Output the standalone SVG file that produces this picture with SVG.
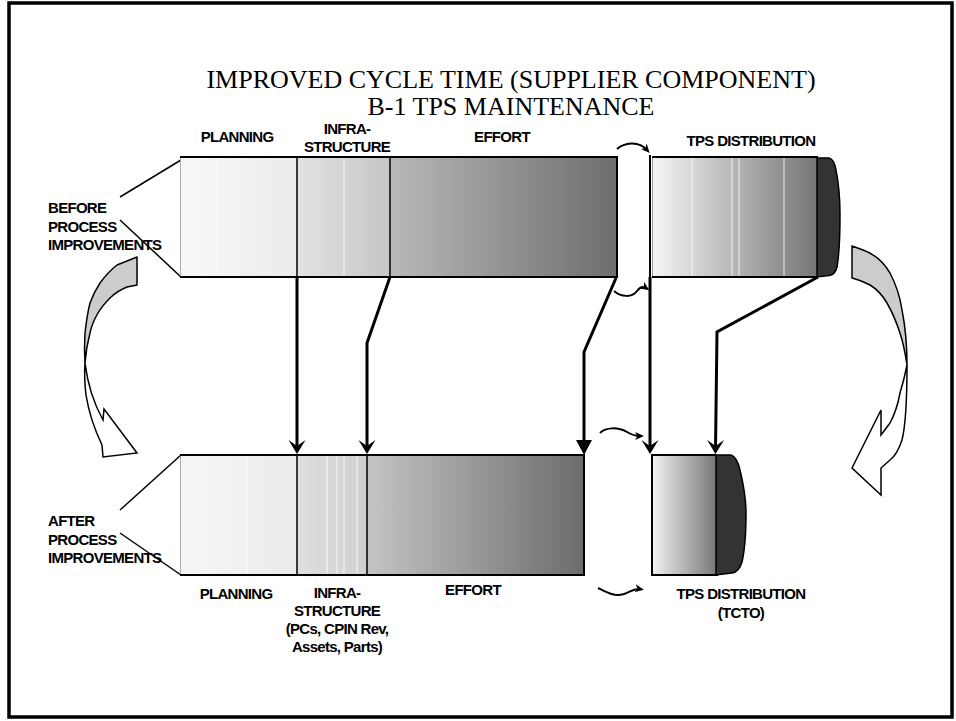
<svg xmlns="http://www.w3.org/2000/svg" width="956" height="721" viewBox="0 0 956 721">
<style>
.lbl{font-family:"Liberation Sans",Arial,sans-serif;font-weight:bold;font-size:15px;letter-spacing:-0.7px;fill:#000}
.mid{text-anchor:middle}
.ttl{font-family:"Liberation Serif","Times New Roman",serif;font-size:26px;fill:#000;text-anchor:middle}
.edge{stroke:#000;stroke-width:2;fill:none}
.div{stroke:#000;stroke-width:1.5}
.sheen{stroke:#fff;stroke-width:1;opacity:0.85}
.conn{stroke:#000;stroke-width:3;fill:none;stroke-linejoin:miter}
.curl{stroke:#000;stroke-width:2;fill:none}
.fun{stroke:#000;stroke-width:1.5}
.back{fill:#cccccc;stroke:#000;stroke-width:1.5;stroke-linejoin:round}
.front{fill:#ffffff;stroke:#000;stroke-width:1.5;stroke-linejoin:miter}
.cap{fill:#333333;stroke:#000;stroke-width:1.5}
</style>
<defs>
<linearGradient id="gTop" gradientUnits="userSpaceOnUse" x1="180" y1="0" x2="617" y2="0">
<stop offset="0" stop-color="#f8f8f8"/>
<stop offset="0.268" stop-color="#ebebeb"/>
<stop offset="0.269" stop-color="#e2e2e2"/>
<stop offset="0.48" stop-color="#c6c6c6"/>
<stop offset="0.481" stop-color="#b8b8b8"/>
<stop offset="1" stop-color="#6e6e6e"/>
</linearGradient>
<linearGradient id="gBot" gradientUnits="userSpaceOnUse" x1="180" y1="0" x2="584" y2="0">
<stop offset="0" stop-color="#f6f6f6"/>
<stop offset="0.29" stop-color="#ebebeb"/>
<stop offset="0.291" stop-color="#dedede"/>
<stop offset="0.463" stop-color="#d0d0d0"/>
<stop offset="0.464" stop-color="#c4c4c4"/>
<stop offset="1" stop-color="#6c6c6c"/>
</linearGradient>
<linearGradient id="gTpsTop" gradientUnits="userSpaceOnUse" x1="652" y1="0" x2="818" y2="0">
<stop offset="0" stop-color="#f6f6f6"/>
<stop offset="1" stop-color="#747474"/>
</linearGradient>
<linearGradient id="gTpsBot" gradientUnits="userSpaceOnUse" x1="652" y1="0" x2="716" y2="0">
<stop offset="0" stop-color="#f2f2f2"/>
<stop offset="1" stop-color="#787878"/>
</linearGradient>
<marker id="barb" markerUnits="userSpaceOnUse" markerWidth="16" markerHeight="18" refX="10" refY="9" orient="auto">
<path d="M14,9 L0,0.5 L6,9 L0,17.5 Z" fill="#000"/>
</marker>
<marker id="tri" markerUnits="userSpaceOnUse" markerWidth="16" markerHeight="16" refX="11" refY="8" orient="auto">
<path d="M15,8 L0,0 L0,16 Z" fill="#000"/>
</marker>
<marker id="sm" markerUnits="userSpaceOnUse" markerWidth="10" markerHeight="8" refX="5" refY="4" orient="auto">
<path d="M9,4 L0,0 L2.5,4 L0,8 Z" fill="#000"/>
</marker>
</defs>

<rect x="9" y="3" width="943" height="714" fill="#ffffff" stroke="#000" stroke-width="3.5"/>

<g id="title">
<text class="ttl" x="511" y="88">IMPROVED CYCLE TIME (SUPPLIER COMPONENT)</text>
<text class="ttl" x="511" y="115">B-1 TPS MAINTENANCE</text>
</g>

<g id="before-label">
<text class="lbl" x="48" y="213">BEFORE</text>
<text class="lbl" x="48" y="232">PROCESS</text>
<text class="lbl" x="48" y="250">IMPROVEMENTS</text>
<line class="fun" x1="181" y1="160" x2="120" y2="197"/>
<line class="fun" x1="120" y1="220" x2="181" y2="277"/>
</g>

<g id="after-label">
<text class="lbl" x="48" y="526">AFTER</text>
<text class="lbl" x="48" y="545">PROCESS</text>
<text class="lbl" x="48" y="563">IMPROVEMENTS</text>
<line class="fun" x1="181" y1="455" x2="120" y2="510"/>
<line class="fun" x1="120" y1="533" x2="181" y2="575"/>
</g>

<g id="bar-before">
<rect x="180" y="157" width="437" height="120" fill="url(#gTop)"/>
<line class="sheen" x1="217" y1="158" x2="217" y2="276"/>
<line class="sheen" x1="344" y1="158" x2="344" y2="276"/>
<line x1="180.5" y1="157" x2="180.5" y2="277" stroke="#aaaaaa" stroke-width="1"/>
<line class="div" x1="297" y1="157" x2="297" y2="277"/>
<line class="div" x1="390" y1="157" x2="390" y2="277"/>
<path class="edge" d="M180 157 H617 V277 H180"/>
<text class="lbl mid" x="237" y="142">PLANNING</text>
<text class="lbl mid" x="347" y="134">INFRA-</text>
<text class="lbl mid" x="347" y="152">STRUCTURE</text>
<text class="lbl mid" x="502" y="142">EFFORT</text>
</g>

<g id="tps-before">
<rect x="652" y="157" width="166" height="120" fill="url(#gTpsTop)"/>
<line class="sheen" x1="692" y1="158" x2="692" y2="276"/>
<line class="sheen" x1="732" y1="158" x2="732" y2="276"/>
<line class="sheen" x1="739" y1="158" x2="739" y2="276"/>
<line class="sheen" x1="784" y1="158" x2="784" y2="276"/>
<line x1="652.5" y1="157" x2="652.5" y2="277" stroke="#999999" stroke-width="1"/>
<path class="edge" d="M652 157 H818 M652 277 H818"/>
<path class="cap" d="M817 158 L829 158 Q834 159 836 170 Q840 190 840 215 Q840 250 837 267 Q835 275 829 275.5 L817 277 Z"/>
<line x1="650" y1="155" x2="650" y2="278" stroke="#000" stroke-width="2"/>
<text class="lbl mid" x="751" y="146">TPS DISTRIBUTION</text>
</g>

<g id="bar-after">
<rect x="180" y="455" width="404" height="120" fill="url(#gBot)"/>
<line class="sheen" x1="247" y1="456" x2="247" y2="574"/>
<line class="sheen" x1="327" y1="456" x2="327" y2="574"/>
<line class="sheen" x1="337" y1="456" x2="337" y2="574"/>
<line class="sheen" x1="344" y1="456" x2="344" y2="574"/>
<line class="sheen" x1="357" y1="456" x2="357" y2="574"/>
<line x1="180.5" y1="455" x2="180.5" y2="575" stroke="#aaaaaa" stroke-width="1"/>
<line class="div" x1="297" y1="455" x2="297" y2="575"/>
<line class="div" x1="367" y1="455" x2="367" y2="575"/>
<path class="edge" d="M180 455 H584 V575 H180"/>
<text class="lbl mid" x="236" y="599">PLANNING</text>
<text class="lbl mid" x="337" y="598">INFRA-</text>
<text class="lbl mid" x="337" y="616">STRUCTURE</text>
<text class="lbl mid" x="337" y="634">(PCs, CPIN Rev,</text>
<text class="lbl mid" x="337" y="652">Assets, Parts)</text>
<text class="lbl mid" x="473" y="595">EFFORT</text>
</g>

<g id="tps-after">
<rect x="652" y="455" width="64" height="120" fill="url(#gTpsBot)"/>
<path class="edge" d="M716 455 H652 V575 H718"/>
<path class="cap" d="M716 455 L731 455 Q737 457 740 470 Q746 495 746 513 Q746 545 742 562 Q739 572 732 573 L716 575 Z"/>
<text class="lbl mid" x="741" y="599">TPS DISTRIBUTION</text>
<text class="lbl mid" x="741" y="618">(TCTO)</text>
</g>

<g id="cycle-left">
<path class="back" d="M137 257 L137 285 L127 287 Q117 291 110 298 Q102 306 98 313 Q92 323 90 333 Q86 348 85 363 Q84 348 85 333 Q87 315 90 303 Q94 292 100 283 Q108 272 117 265 Z"/>
<path class="front" d="M85 363 Q89 395 103 420 L104 409 L137 453 L103 457 L102 445 Q90 420 86 395 Q84 378 85 363 Z"/>
</g>

<g id="cycle-right">
<path class="back" d="M852 246 L863 250 Q880 256 890 273 Q899 290 902 310 Q907 335 907 365 Q904 345 900 333 Q894 315 887 303 Q880 291 870 285 Q860 280 852 278 Z"/>
<path class="front" d="M907 365 Q907 420 902 440 Q897 455 890 460 L881 468 L881 495 L852 468 L881 410 L881 435 L890 423 Q897 410 900 393 Q904 380 907 365 Z"/>
</g>

<g id="connectors">
<path class="conn" d="M297 277 V450" marker-end="url(#barb)"/>
<path class="conn" d="M390 277 L367 343 V450" marker-end="url(#barb)"/>
<path class="conn" d="M616 278 L584 352 V451" marker-end="url(#tri)"/>
<path class="conn" d="M650 277 V450" marker-end="url(#barb)"/>
<path class="conn" d="M818 277 L717 332 L715.5 450" marker-end="url(#barb)"/>
<path class="curl" d="M617 149 C624 143 638 140 647 150" marker-end="url(#sm)"/>
<path class="curl" d="M614 291 C621 297 632 298 637 291 C640 287 643 286 646 288" marker-end="url(#sm)"/>
<path class="curl" d="M600 433 C606 427 618 427 627 432 C632 435 636 436 640 436" marker-end="url(#sm)"/>
<path class="curl" d="M598 588 C606 592 614 597 624 594 C630 592 634 588 640 589" marker-end="url(#sm)"/>
</g>
</svg>
